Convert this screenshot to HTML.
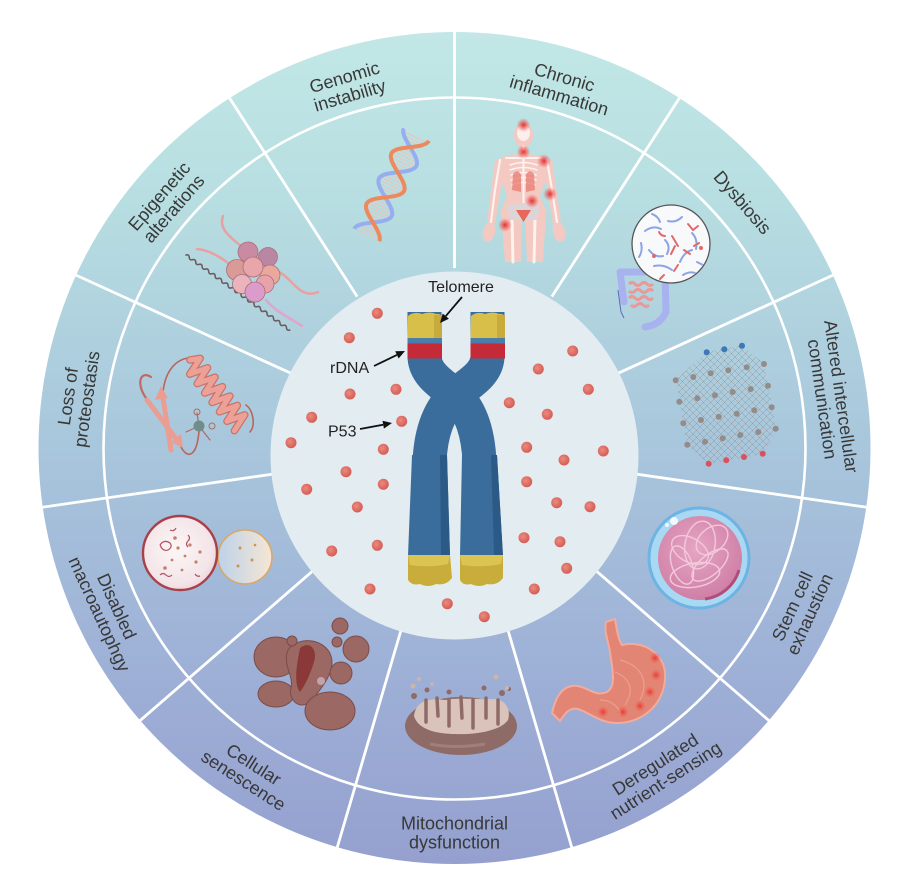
<!DOCTYPE html>
<html><head><meta charset="utf-8"><style>
html,body{margin:0;padding:0;background:#fff;}
svg{display:block;}
text{font-family:"Liberation Sans",Arial,sans-serif;}
</style></head><body>
<svg width="906" height="890" viewBox="0 0 906 890" xmlns="http://www.w3.org/2000/svg">
<defs>
<linearGradient id="bg" x1="0" y1="32" x2="0" y2="864" gradientUnits="userSpaceOnUse">
<stop offset="0" stop-color="#c2e7e6"/>
<stop offset="0.2" stop-color="#b7dee1"/>
<stop offset="0.5" stop-color="#a8c6dc"/>
<stop offset="0.74" stop-color="#9fb2d7"/>
<stop offset="1" stop-color="#95a0cf"/>
</linearGradient>
<radialGradient id="dot" cx="0.4" cy="0.4" r="0.65"><stop offset="0" stop-color="#ec8a7f"/><stop offset="1" stop-color="#d35a52"/></radialGradient>
<radialGradient id="inf"><stop offset="0" stop-color="#e02828" stop-opacity="0.95"/><stop offset="0.5" stop-color="#e84848" stop-opacity="0.55"/><stop offset="1" stop-color="#f06060" stop-opacity="0"/></radialGradient>
<radialGradient id="spot"><stop offset="0" stop-color="#e8302e" stop-opacity="0.9"/><stop offset="1" stop-color="#f06050" stop-opacity="0"/></radialGradient>
<radialGradient id="cellbig" cx="0.45" cy="0.45" r="0.6"><stop offset="0" stop-color="#fcf6f6"/><stop offset="0.8" stop-color="#f3e4e8"/><stop offset="1" stop-color="#e8d0d6"/></radialGradient>
<linearGradient id="cellsm" x1="0" y1="0" x2="1" y2="0"><stop offset="0" stop-color="#bcd2ea"/><stop offset="1" stop-color="#f6e6d4"/></linearGradient>
<radialGradient id="stemin" cx="0.45" cy="0.4" r="0.6"><stop offset="0" stop-color="#e6a6c2"/><stop offset="1" stop-color="#cf7fa6"/></radialGradient>
<pattern id="xh" width="7" height="7" patternUnits="userSpaceOnUse"><path d="M0,0L7,7M7,0L0,7" stroke="#8f8f8f" stroke-width="0.5"/></pattern>
<clipPath id="dnaclip"><path d="M0,14 C10,14 18,-14 28,-14 S46,14 56,14 S74,-14 84,-14 S102,14 112,14 L112,-14 C102,-14 94,14 84,14 C74,14 66,-14 56,-14 C46,-14 38,14 28,14 C18,14 10,-14 0,-14 Z"/></clipPath>
<clipPath id="stemclip"><circle cx="700" cy="558" r="41"/></clipPath>
<clipPath id="dysclip"><circle cx="671" cy="244" r="38"/></clipPath>
</defs>

<rect width="906" height="890" fill="#fff"/>
<circle cx="454.5" cy="448" r="416" fill="url(#bg)"/>
<circle cx="454.5" cy="448.5" r="351" fill="none" stroke="#fff" stroke-width="2.6"/>
<g stroke="#fff" stroke-width="2.8">
<line x1="454.5" y1="32" x2="454.5" y2="268"/>
<line x1="679.6" y1="97.8" x2="551.8" y2="296.6"/>
<line x1="833.3" y1="275" x2="618.2" y2="373.2"/>
<line x1="866.7" y1="507.2" x2="632.7" y2="473.6"/>
<line x1="769.2" y1="720.8" x2="590.5" y2="565.9"/>
<line x1="571.8" y1="847.5" x2="505.2" y2="620.7"/>
<line x1="337.2" y1="847.5" x2="403.8" y2="620.7"/>
<line x1="139.8" y1="720.8" x2="318.5" y2="565.9"/>
<line x1="42.3" y1="507.2" x2="276.3" y2="473.6"/>
<line x1="75.7" y1="275" x2="290.8" y2="373.2"/>
<line x1="229.4" y1="97.8" x2="357.2" y2="296.6"/>
</g>
<circle cx="454.5" cy="455.5" r="184" fill="#e3ecf0"/>

<!-- DNA -->
<g transform="translate(366.7,235) rotate(-63.7)">
<path d="M0,0H112" stroke="#e8c4bc" stroke-width="30" stroke-dasharray="1 2.2" clip-path="url(#dnaclip)"/>
<path d="M0,-14 C10,-14 18,14 28,14 S46,-14 56,-14 S74,14 84,14 S102,-14 112,-14" stroke="#94aef0" stroke-width="4" fill="none"/>
<path d="M0,14 C10,14 18,-14 28,-14 S46,14 56,14 S74,-14 84,-14 S102,14 112,14" stroke="#ec8a5e" stroke-width="4" fill="none"/>
</g>

<!-- nucleosome -->
<g fill="none" stroke-linecap="round">
<path transform="translate(186,255) rotate(35.9)" d="M0,0 q2,-2.5 4,0 t4,0 t4,0 t4,0 t4,0 t4,0 t4,0 t4,0 t4,0 t4,0 t4,0 t4,0 t4,0 t4,0 t4,0 t4,0 t4,0 t4,0 t4,0 t4,0 t4,0 t4,0 t4,0 t4,0 t4,0 t4,0 t4,0 t4,0 t4,0 t4,0 t4,0 t4,0" stroke="#6b5c5e" stroke-width="1.6"/>
<path d="M223,216 C218,230 232,238 242,247" stroke="#e9a0a0" stroke-width="2.5"/>
<path d="M197,249 C210,250 222,258 232,266" stroke="#e9a0a0" stroke-width="2.5"/>
<path d="M279,272 C292,278 300,300 318,292" stroke="#e9a0a0" stroke-width="2.5"/>
<path d="M266,300 C276,312 290,318 302,326" stroke="#e2a4cc" stroke-width="2.5"/>
</g>
<g stroke="#a8707a" stroke-width="0.8">
<circle cx="248" cy="252" r="10" fill="#c98ba2"/>
<circle cx="268" cy="257" r="9.5" fill="#b987a4"/>
<circle cx="237" cy="270" r="10.5" fill="#d99a98"/>
<circle cx="270" cy="275" r="10" fill="#eaa79c"/>
<circle cx="253" cy="267" r="10" fill="#e8a6ab"/>
<circle cx="242" cy="284" r="9.5" fill="#ebb3bb"/>
<circle cx="265" cy="284" r="9" fill="#e8a2aa"/>
<circle cx="255" cy="292" r="10" fill="#dc9ccb"/>
</g>

<!-- body -->
<g fill="#f4c9c1">
<ellipse cx="523.5" cy="135" rx="9.5" ry="12"/>
<rect x="519" y="144" width="9" height="12"/>
<path d="M502,157 Q523,151 545,157 L547,176 L540,196 L547,213 L500,213 L507,196 L500,176 Z"/>
<path d="M501,212 L522,212 L521,262 L505,262 Z"/>
<path d="M525,212 L546,212 L543,262 L527,262 Z"/>
<path d="M502,158 L495,160 L487,222 L495,224 L502,182 Z"/>
<path d="M545,158 L552,160 L561,222 L553,224 L546,182 Z"/>
<ellipse cx="489" cy="232" rx="6" ry="10" transform="rotate(15 489 232)"/>
<ellipse cx="559" cy="232" rx="6" ry="10" transform="rotate(-15 559 232)"/>
</g>
<g stroke="#fdf2f0" fill="none" stroke-linecap="round">
<ellipse cx="523.5" cy="133" rx="6.5" ry="8" fill="#fbeeed" stroke="none"/>
<line x1="523.5" y1="146" x2="523.5" y2="208" stroke-width="2"/>
<path d="M510,165 Q523.5,160 537,165 M510,170 Q523.5,165 537,170 M511,175 Q523.5,170 536,175 M511,180 Q523.5,175 536,180 M512,185 Q523.5,180 535,185" stroke-width="1.5"/>
<line x1="506" y1="158" x2="541" y2="158" stroke-width="2"/>
<path d="M500,160 L495,190 L491,222 M547,160 L552,190 L557,222" stroke-width="2.2"/>
<path d="M512,220 L513,262 M535,220 L534,262" stroke-width="3"/>
</g>
<path d="M513,174 Q518,168 521,175 L521,192 L512,190 Z M534,174 Q529,168 526,175 L526,192 L535,190 Z" fill="#e77a72" opacity="0.75"/>
<path d="M507,206 Q523,200 540,206 L537,220 L510,220 Z" fill="#dcd4d6"/>
<path d="M516,210 L531,210 L523.5,222 Z" fill="#e8665a"/>
<g fill="url(#inf)">
<circle cx="523.5" cy="125" r="7"/><circle cx="523.5" cy="152" r="7"/><circle cx="544" cy="161" r="7"/>
<circle cx="550" cy="194" r="7"/><circle cx="532" cy="201" r="7"/><circle cx="505" cy="225" r="7"/>
</g>

<!-- dysbiosis -->
<path d="M624,302 L620,272 L665,272 L666,312 Q660,325 645,327" stroke="#a8b2ee" stroke-width="7" fill="none" stroke-linecap="round" stroke-linejoin="round"/>
<path d="M618,290 L621,312 L624,318" stroke="#5a6ab8" stroke-width="1" fill="none"/>
<path d="M629,284 q3,-3 6,0 t6,0 t6,0 t6,0 M629,291 q3,3 6,0 t6,0 t6,0 t6,0 M629,298 q3,-3 6,0 t6,0 t6,0 t6,0 M631,305 q3,3 6,0 t6,0 t6,0" stroke="#ea9898" stroke-width="3" fill="none"/>
<circle cx="671" cy="244" r="39" fill="#f8f9fb" stroke="#555" stroke-width="1.3"/>
<g clip-path="url(#dysclip)" fill="none" stroke-linecap="round">
<g stroke="#8ea3e3" stroke-width="2">
<path d="M645,231 q8,-6 16,-2"/><path d="M649,250 q6,8 14,6"/><path d="M668,221 q8,2 14,-4"/>
<path d="M680,262 q4,-10 12,-12"/><path d="M654,266 q10,-2 18,4"/><path d="M641,243 q2,8 -2,14"/>
<path d="M692,233 q6,6 4,16"/><path d="M665,240 q6,6 2,14"/><path d="M683,275 q6,-4 12,-2"/>
<path d="M652,214 q6,2 8,8"/><path d="M697,262 l8,4"/>
</g>
<g stroke="#e06a6a" stroke-width="2">
<path d="M672,236 l6,10 M675,246 l-4,8"/><path d="M688,224 l5,6 l5,-4"/><path d="M659,232 q2,4 6,4"/>
<path d="M684,250 l6,4"/><path d="M674,271 l4,-6"/><path d="M694,246 l5,-3"/><path d="M660,279 l4,-4"/>
</g>
<circle cx="701" cy="248" r="2" fill="#e06a6a"/><circle cx="654" cy="256" r="2" fill="#e06a6a"/>
</g>

<!-- network -->
<polygon points="706,352 742,345 764,364 776,429 763,454 709,464 687,445 676,380" fill="url(#xh)" opacity="0.8"/>
<g fill="#948c8a">
<circle cx="675.7" cy="380.3" r="3"/><circle cx="693.3" cy="377" r="3"/><circle cx="710.7" cy="373.3" r="3"/><circle cx="728.3" cy="370.3" r="3"/><circle cx="746.7" cy="367.3" r="3"/><circle cx="764" cy="364" r="3"/>
<circle cx="679.3" cy="401.7" r="3"/><circle cx="697.3" cy="398.3" r="3"/><circle cx="715" cy="395.3" r="3"/><circle cx="732.7" cy="392" r="3"/><circle cx="750.7" cy="389" r="3"/><circle cx="768" cy="385.7" r="3"/>
<circle cx="683.3" cy="423.3" r="3"/><circle cx="701" cy="420" r="3"/><circle cx="718.7" cy="416.7" r="3"/><circle cx="736.7" cy="413.7" r="3"/><circle cx="754.3" cy="410.3" r="3"/><circle cx="771.7" cy="407.3" r="3"/>
<circle cx="687.3" cy="444.7" r="3"/><circle cx="705" cy="441.7" r="3"/><circle cx="722.7" cy="438.3" r="3"/><circle cx="740.3" cy="435" r="3"/><circle cx="758.3" cy="432" r="3"/><circle cx="775.7" cy="428.7" r="3"/>
</g>
<g fill="#3b78b8"><circle cx="706.7" cy="352.3" r="3"/><circle cx="724.3" cy="349.3" r="3"/><circle cx="742" cy="345.7" r="3"/></g>
<g fill="#d9505e"><circle cx="708.7" cy="463.7" r="3"/><circle cx="726.3" cy="460.3" r="3"/><circle cx="744" cy="457" r="3"/><circle cx="762.7" cy="453.7" r="3"/></g>

<!-- stem cell -->
<circle cx="699" cy="558" r="50" fill="#a9d8f3" stroke="#6db3e3" stroke-width="3"/>
<circle cx="700" cy="558" r="42" fill="url(#stemin)"/>
<g clip-path="url(#stemclip)" fill="none" stroke="#f3c8dc" stroke-width="1.4">
<ellipse cx="690" cy="550" rx="20" ry="12" transform="rotate(30 690 550)"/>
<ellipse cx="710" cy="565" rx="22" ry="10" transform="rotate(-40 710 565)"/>
<ellipse cx="700" cy="545" rx="15" ry="24" transform="rotate(10 700 545)"/>
<ellipse cx="695" cy="575" rx="25" ry="12" transform="rotate(-10 695 575)"/>
<ellipse cx="712" cy="540" rx="12" ry="18" transform="rotate(50 712 540)"/>
<ellipse cx="682" cy="565" rx="10" ry="20" transform="rotate(-20 682 565)"/>
</g>
<path d="M705,599 A41,41 0 0 0 739,570" stroke="#b34c7c" stroke-width="3" fill="none"/>
<circle cx="674" cy="521" r="4" fill="#fff" opacity="0.85"/><circle cx="667" cy="525" r="2" fill="#fff" opacity="0.8"/>

<!-- stomach -->
<path d="M606,622 L615,619 C617,630 618,639 622,645 C641,640 663,652 665,672 C667,700 646,723 617,723 C600,723 590,713 578,709 C570,707 565,713 560,721 L552,713 C555,700 560,688 572,686 C585,684 595,698 607,692 C617,686 612,668 610,652 C608,640 604,632 606,622 Z" fill="#e38574" stroke="#f2ab9c" stroke-width="2"/>
<path d="M620,660 C640,665 650,680 640,700 M615,672 C630,678 635,690 625,705 M600,700 C612,700 620,708 620,715" stroke="#ec9f8e" stroke-width="1.2" fill="none"/>
<g fill="url(#spot)">
<circle cx="655" cy="658" r="6"/><circle cx="656" cy="675" r="6"/><circle cx="650" cy="692" r="6"/>
<circle cx="640" cy="706" r="6"/><circle cx="623" cy="712" r="6"/><circle cx="603" cy="712" r="6"/>
</g>

<!-- mitochondrion -->
<ellipse cx="461" cy="726" rx="56" ry="29" fill="#8f6b67"/>
<path d="M414,716 C416,700 430,698 445,700 C460,697 480,700 495,699 C506,700 511,710 508,720 C500,732 470,735 455,734 C438,734 418,730 414,716 Z" fill="#d9c3bb"/>
<g stroke="#8f6b67" stroke-width="3.5" stroke-linecap="round">
<line x1="426" y1="700" x2="426" y2="722"/><line x1="437" y1="698" x2="438" y2="716"/><line x1="449" y1="700" x2="449" y2="726"/>
<line x1="461" y1="697" x2="462" y2="718"/><line x1="473" y1="700" x2="473" y2="728"/><line x1="486" y1="698" x2="486" y2="718"/><line x1="498" y1="700" x2="498" y2="724"/>
</g>
<path d="M430,744 Q455,749 485,744" stroke="#a17f79" stroke-width="3" fill="none"/>
<g fill="#8f6b67"><circle cx="414" cy="696" r="3"/><circle cx="427" cy="690" r="2.5"/><circle cx="449" cy="692" r="2.5"/><circle cx="484" cy="688" r="2.5"/><circle cx="502" cy="693" r="3"/><circle cx="509" cy="689" r="2"/></g>
<g fill="#cdb5aa"><circle cx="413" cy="686" r="2.5"/><circle cx="419" cy="679" r="2"/><circle cx="496" cy="677" r="2.5"/><circle cx="507" cy="688" r="2"/><circle cx="432" cy="684" r="1.8"/></g>

<!-- senescence -->
<g fill="#9c6863" stroke="#7b4c49" stroke-width="1">
<ellipse cx="276" cy="657" rx="22" ry="20"/>
<ellipse cx="276" cy="694" rx="18" ry="13"/>
<path d="M288,650 C300,634 326,640 331,656 C336,672 320,690 312,700 C300,712 288,700 291,688 C294,676 282,664 288,650Z"/>
<circle cx="356" cy="649" r="13"/>
<circle cx="340" cy="626" r="8"/>
<circle cx="337" cy="642" r="5"/>
<circle cx="341" cy="673" r="11"/>
<ellipse cx="330" cy="711" rx="25" ry="19"/>
<circle cx="292" cy="641" r="5"/>
</g>
<path d="M300,648 C310,640 318,650 314,662 C311,672 306,684 300,692 C294,684 296,668 300,648Z" fill="#8a3838"/>
<circle cx="321" cy="681" r="4" fill="#c3a3ab"/>

<!-- autophagy -->
<circle cx="245" cy="557" r="27" fill="url(#cellsm)" stroke="#d8a868" stroke-width="1.6"/>
<circle cx="180" cy="553" r="37" fill="url(#cellbig)" stroke="#a8404a" stroke-width="2.4"/>
<g fill="#c4806a"><circle cx="178" cy="548" r="1.6"/><circle cx="185" cy="556" r="1.4"/><circle cx="172" cy="560" r="1.4"/><circle cx="190" cy="545" r="1.6"/><circle cx="165" cy="568" r="1.8"/><circle cx="196" cy="562" r="1.6"/><circle cx="182" cy="570" r="1.4"/><circle cx="175" cy="538" r="1.8"/><circle cx="200" cy="552" r="1.6"/></g>
<g fill="#d09050"><circle cx="240" cy="548" r="1.5"/><circle cx="252" cy="560" r="1.5"/><circle cx="238" cy="566" r="1.5"/><circle cx="255" cy="545" r="1.3"/></g>
<g fill="none" stroke="#b25060" stroke-width="1.2">
<path d="M160,545 q4,-6 10,-2 q3,4 -2,7 q-5,2 -8,-5"/><path d="M188,535 q3,3 0,6 q-3,3 0,6"/><path d="M160,575 q3,-3 6,0 q3,3 6,0"/><path d="M195,574 q2,3 5,2"/><path d="M170,530 q4,2 6,-2"/>
</g>

<!-- protein -->
<g fill="none" stroke-linecap="round" stroke-linejoin="round">
<path d="M163,392 C165,372 175,360 188,358" stroke="#b9655d" stroke-width="1.6"/>
<path d="M181,447 C188,460 197,456 199,431" stroke="#b9655d" stroke-width="1.6"/>
<path d="M250,432 C256,425 253,410 246,405" stroke="#b9655d" stroke-width="1.6"/>
<path d="M146,398 C136,384 140,370 151,377" stroke="#c06a62" stroke-width="2.2"/>
<path d="M199,426 L186,432 M199,426 L210,440 M199,426 L197,413" stroke="#b9655d" stroke-width="1.2"/>
<g transform="translate(190,360) rotate(51.7)">
<path d="M0,0 l5,-9 l6,18 l6,-18 l6,18 l6,-18 l6,18 l6,-18 l6,18 l6,-18 l6,18 l6,-18 l6,18 l6,-18 l6,18" stroke="#c9746b" stroke-width="7.5"/>
<path d="M0,0 l5,-9 l6,18 l6,-18 l6,18 l6,-18 l6,18 l6,-18 l6,18 l6,-18 l6,18 l6,-18 l6,18 l6,-18 l6,18" stroke="#eda196" stroke-width="5"/>
</g>
<path d="M171,450 L163,398" stroke="#eb9d92" stroke-width="5"/>
<path d="M147,400 L177,440" stroke="#eb9d92" stroke-width="5"/>
</g>
<polygon points="161,386 155,400 168,398" fill="#eb9d92"/>
<polygon points="183,448 171,442 181,434" fill="#eb9d92"/>
<circle cx="199" cy="426" r="5.5" fill="#6f8d8c"/>
<circle cx="197" cy="412" r="3" fill="none" stroke="#b06a62" stroke-width="1"/>
<circle cx="212" cy="426" r="3" fill="none" stroke="#b06a62" stroke-width="1"/>

<!-- chromosome -->
<g fill="none" stroke-linecap="butt">
<path d="M487.5,312 L487.5,356 C487.5,375 466,385 455,395 C443,406 431,425 429.5,462" stroke="#3a6d9c" stroke-width="34"/>
<path d="M424.5,312 L424.5,356 C424.5,375 444,385 455,395 C467,406 478,425 479.5,462" stroke="#3a6d9c" stroke-width="34"/>
</g>
<path d="M412,455 L447,455 L450,556 L408,556 Z" fill="#3a6d9c"/>
<path d="M462,455 L497,455 L503,556 L460,556 Z" fill="#3a6d9c"/>
<path d="M440,455 L447,455 L450,556 L441,556 Z" fill="#2c5a86"/>
<path d="M491,455 L497,455 L503,556 L494,556 Z" fill="#2c5a86"/>
<path d="M408,555 L450,555 L452,578 Q446,586 436,584 Q428,588 420,584 Q412,586 408,580 Z" fill="#c9ad3a"/>
<path d="M460,555 L503,555 L503,578 Q497,586 487,584 Q479,588 471,584 Q463,586 460,580 Z" fill="#c9ad3a"/>
<path d="M408,555 L450,555 L448,564 Q430,568 410,565 Z" fill="#dcc452"/>
<path d="M460,555 L503,555 L501,564 Q482,568 462,565 Z" fill="#dcc452"/>
<path d="M408,316 Q414,311 422,314 Q430,311 436,314 Q441,313 442,318 L442,338 L407.5,338 Z" fill="#d7bf4a"/>
<path d="M471,316 Q477,311 485,314 Q493,311 499,314 Q504,313 505,318 L505,338 L470.5,338 Z" fill="#d7bf4a"/>
<rect x="434" y="315" width="8" height="23" fill="#c7ab3c"/>
<rect x="497" y="315" width="8" height="23" fill="#c7ab3c"/>
<rect x="407.5" y="338" width="34.5" height="5.5" fill="#4a7ea8"/>
<rect x="470.5" y="338" width="34.5" height="5.5" fill="#4a7ea8"/>
<rect x="407.5" y="343.5" width="34.5" height="15" fill="#c42a37"/>
<rect x="470.5" y="343.5" width="34.5" height="15" fill="#c42a37"/>

<!-- dots -->
<g fill="url(#dot)">
<circle cx="377.3" cy="313.3" r="5.5"/><circle cx="349.3" cy="337.7" r="5.5"/><circle cx="350" cy="394" r="5.5"/><circle cx="396" cy="389.3" r="5.5"/>
<circle cx="311.7" cy="417.3" r="5.5"/><circle cx="401.7" cy="421.3" r="5.5"/><circle cx="291" cy="442.7" r="5.5"/><circle cx="383.3" cy="449.3" r="5.5"/>
<circle cx="346" cy="471.7" r="5.5"/><circle cx="306.7" cy="489.3" r="5.5"/><circle cx="383.3" cy="484.3" r="5.5"/><circle cx="357.3" cy="507" r="5.5"/>
<circle cx="331.7" cy="551" r="5.5"/><circle cx="377.3" cy="545.3" r="5.5"/><circle cx="370" cy="589" r="5.5"/><circle cx="447.3" cy="603.7" r="5.5"/>
<circle cx="484.3" cy="616.7" r="5.5"/><circle cx="534.3" cy="589" r="5.5"/><circle cx="566.7" cy="568.3" r="5.5"/><circle cx="560" cy="541.7" r="5.5"/>
<circle cx="524" cy="537.7" r="5.5"/><circle cx="590" cy="506.7" r="5.5"/><circle cx="556.7" cy="502.7" r="5.5"/><circle cx="526.7" cy="481.7" r="5.5"/>
<circle cx="564" cy="460" r="5.5"/><circle cx="603.3" cy="451" r="5.5"/><circle cx="526.7" cy="447.3" r="5.5"/><circle cx="547.3" cy="414.3" r="5.5"/>
<circle cx="509.3" cy="402.7" r="5.5"/><circle cx="588.3" cy="389.3" r="5.5"/><circle cx="538.3" cy="369" r="5.5"/><circle cx="572.7" cy="351" r="5.5"/>
</g>

<!-- arrows -->
<g stroke="#111" stroke-width="1.8">
<line x1="462" y1="297" x2="445.8" y2="316.1"/>
<line x1="374" y1="366" x2="396.9" y2="354.9"/>
<line x1="360" y1="429" x2="383.2" y2="424.7"/>
</g>
<g fill="#111">
<polygon points="440,323 448.9,318.7 442.7,313.5"/>
<polygon points="405,351 398.6,358.5 395.2,351.3"/>
<polygon points="392,423 383.9,428.6 382.5,420.8"/>
</g>
<g font-size="16" fill="#222">
<text x="461" y="292" text-anchor="middle">Telomere</text>
<text x="330" y="373">rDNA</text>
<text x="328" y="436.5">P53</text>
</g>

<!-- segment labels -->
<g font-size="18" fill="#383838" text-anchor="middle">
<g transform="rotate(-16.36 454.5 452)"><text x="454.5" y="67.5">Genomic</text><text x="454.5" y="86.5">instability</text></g>
<g transform="rotate(16.36 454.5 452)"><text x="454.5" y="67.5">Chronic</text><text x="454.5" y="86.5">inflammation</text></g>
<g transform="rotate(49.09 454.5 452)"><text x="454.5" y="77">Dysbiosis</text></g>
<g transform="rotate(81.82 454.5 452)"><text x="454.5" y="67.5">Altered intercellular</text><text x="454.5" y="86.5">communication</text></g>
<g transform="rotate(-81.82 454.5 452)"><text x="454.5" y="67.5">Loss of</text><text x="454.5" y="86.5">proteostasis</text></g>
<g transform="rotate(-49.09 454.5 452)"><text x="454.5" y="67.5">Epigenetic</text><text x="454.5" y="86.5">alterations</text></g>
<g transform="rotate(-65.45 454.5 452)"><text x="454.5" y="829.5">Stem cell</text><text x="454.5" y="848.5">exhaustion</text></g>
<g transform="rotate(-32.73 454.5 452)"><text x="454.5" y="829.5">Deregulated</text><text x="454.5" y="848.5">nutrient-sensing</text></g>
<g><text x="454.5" y="829.5">Mitochondrial</text><text x="454.5" y="848.5">dysfunction</text></g>
<g transform="rotate(32.73 454.5 452)"><text x="454.5" y="829.5">Cellular</text><text x="454.5" y="848.5">senescence</text></g>
<g transform="rotate(65.45 454.5 452)"><text x="454.5" y="829.5">Disabled</text><text x="454.5" y="848.5">macroautophgy</text></g>
</g>
</svg>
</body></html>
